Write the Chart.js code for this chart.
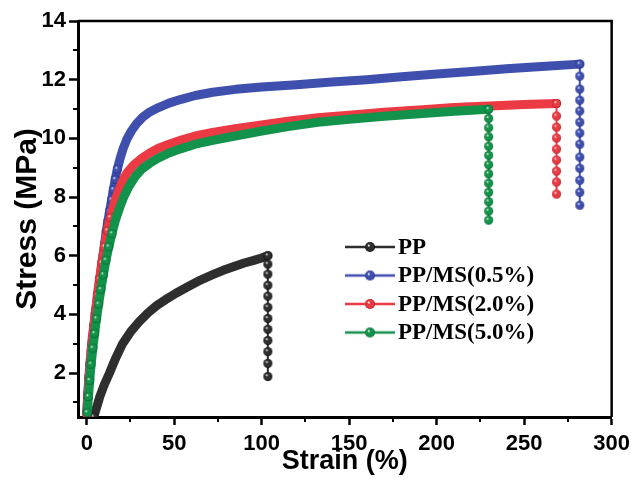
<!DOCTYPE html>
<html>
<head>
<meta charset="utf-8">
<script src="https://cdn.jsdelivr.net/npm/chart.js@4.4.1/dist/chart.umd.min.js"></script>
<style>
  html, body { margin: 0; padding: 0; background: #fff; }
  #wrap { width: 636px; height: 484px; position: relative; }
</style>
</head>
<body>
<div id="wrap"><canvas id="stressChart"></canvas></div>
<script>
// Tensile curves: strain (%) and stress (MPa), last points are the break drop
const seriesNames = ["PP", "PP/MS(0.5%)", "PP/MS(2.0%)", "PP/MS(5.0%)"];

const ppStrain = [4, 5.5, 7.5, 10, 13, 16.5, 20.5, 25, 30, 35, 40, 45, 51, 58, 65, 72, 78, 85, 90, 95, 100, 103.5,
  103.5, 103.5, 103.5, 103.5, 103.5, 103.5, 103.5, 103.5, 103.5, 103.5, 103.5];
const ppStress = [0.5, 0.8, 1.2, 1.6, 2.0, 2.5, 3.0, 3.4, 3.75, 4.05, 4.3, 4.5, 4.72, 4.95, 5.17, 5.35, 5.5, 5.65, 5.75, 5.83, 5.92, 6.0,
  5.71, 5.37, 4.99, 4.62, 4.24, 3.86, 3.49, 3.11, 2.73, 2.33, 1.88];

const ms05Strain = [0, 0.6, 1.2, 1.8, 2.5, 3.2, 4, 4.8, 5.7, 6.6, 7.5, 8.4, 9.3, 10.2, 11.1, 12, 13, 14.2, 15.2, 16.3, 17.5, 19, 20.8,
  23, 25.5, 28.5, 32, 36, 41, 47, 54, 62, 72, 85, 100, 120, 140, 160, 180, 200, 220, 240, 260, 281.8,
  281.8, 281.8, 281.8, 281.8, 281.8, 281.8, 281.8, 281.8, 281.8, 281.8, 281.8, 281.8];
const ms05Stress = [0.65, 1.3, 1.85, 2.3, 2.75, 3.2, 3.6, 4.0, 4.4, 4.8, 5.2, 5.6, 6.0, 6.4, 6.8, 7.15, 7.5, 7.9, 8.25, 8.6, 8.95, 9.3, 9.65,
  9.98, 10.25, 10.5, 10.72, 10.9, 11.05, 11.2, 11.33, 11.46, 11.57, 11.67, 11.75, 11.83, 11.92, 12.0, 12.1, 12.19, 12.28, 12.37, 12.45, 12.53,
  12.12, 11.68, 11.3, 10.93, 10.55, 10.18, 9.8, 9.36, 8.98, 8.57, 8.16, 7.72];

const ms20Strain = [0, 0.6, 1.3, 2.1, 3, 4, 5, 6.1, 7.3, 8.6, 10.1, 11.8, 13.5, 15.4, 17.5, 20, 23, 27, 31.5, 36, 41, 47, 54, 62,
  72, 84, 100, 115, 132, 150, 170, 190, 210, 230, 250, 268.5,
  268.5, 268.5, 268.5, 268.5, 268.5, 268.5, 268.5, 268.5];
const ms20Stress = [0.6, 1.2, 1.8, 2.4, 3.0, 3.55, 4.1, 4.65, 5.2, 5.75, 6.3, 6.85, 7.3, 7.72, 8.1, 8.48, 8.82, 9.1, 9.32, 9.5, 9.66, 9.8, 9.94, 10.08,
  10.2, 10.32, 10.46, 10.58, 10.7, 10.79, 10.89, 10.97, 11.05, 11.1, 11.15, 11.19,
  10.76, 10.38, 10.01, 9.63, 9.26, 8.88, 8.51, 8.1];

const ms50Strain = [0.3, 1, 1.7, 2.5, 3.5, 4.5, 5.6, 6.8, 8.1, 9.5, 11, 12.6, 14.4, 16.4, 18.6, 21, 24, 27.5, 31.5, 36, 41, 47, 54, 62,
  72, 84, 100, 115, 132, 150, 170, 190, 210, 229.7,
  229.7, 229.7, 229.7, 229.7, 229.7, 229.7, 229.7, 229.7, 229.7, 229.7, 229.7, 229.7];
const ms50Stress = [0.65, 1.2, 1.75, 2.3, 2.85, 3.35, 3.85, 4.35, 4.85, 5.35, 5.85, 6.3, 6.75, 7.2, 7.6, 7.98, 8.35, 8.68, 8.95, 9.15, 9.33, 9.5, 9.65, 9.8,
  9.93, 10.07, 10.25, 10.4, 10.55, 10.65, 10.75, 10.84, 10.92, 10.99,
  10.68, 10.36, 10.05, 9.73, 9.42, 9.1, 8.79, 8.47, 8.16, 7.84, 7.52, 7.21];

const xMinorTicks = [25, 75, 125, 175, 225, 275];
const yMinorTicks = [1, 3, 5, 7, 9, 11, 13];

// colours: body, dark rim
const bodyColors = ["#2e2e2e", "#3f4fae", "#ec3a44", "#12924a"];
const rimColors = ["#000000", "#1b2470", "#9c1018", "#055a28"];
const drawOrder = [3, 2, 1, 0];

function makeBall(body, rim, r) {
  const size = Math.ceil(r * 2) + 2;
  const c = document.createElement("canvas");
  c.width = c.height = size;
  const g = c.getContext("2d");
  const cx = size / 2, cy = size / 2;
  const grad = g.createRadialGradient(cx - r * 0.3, cy - r * 0.35, r * 0.05, cx, cy, r);
  grad.addColorStop(0, "#f4f4f4");
  grad.addColorStop(0.3, body);
  grad.addColorStop(0.8, body);
  grad.addColorStop(1, rim);
  g.fillStyle = grad;
  g.beginPath();
  g.arc(cx, cy, r, 0, Math.PI * 2);
  g.fill();
  return c;
}

function makeLegendMark(body, rim) {
  const c = document.createElement("canvas");
  c.width = 50;
  c.height = 12;
  const g = c.getContext("2d");
  g.strokeStyle = body;
  g.lineWidth = 2.5;
  g.beginPath();
  g.moveTo(0, 6);
  g.lineTo(50, 6);
  g.stroke();
  g.drawImage(makeBall(body, rim, 5), 25 - 6, 0);
  return c;
}

function toPoints(xs, ys) {
  return xs.map((x, i) => ({ x, y: ys[i] }));
}

// beads stay visible on steep stretches and on the break drop;
// on the flat plateau they merge into a solid band
function beadRadius(ctx) {
  const d = ctx.dataset.data;
  const i = ctx.dataIndex;
  const p = d[i];
  const q = d[i + 1] || d[i - 1];
  if (!p || !q) return 4.5;
  const dx = Math.abs(q.x - p.x);
  const dy = Math.abs(q.y - p.y);
  return dx === 0 || dy / dx > 0.2 ? 4.5 : 0;
}

const pointSets = [
  toPoints(ppStrain, ppStress),
  toPoints(ms05Strain, ms05Stress),
  toPoints(ms20Strain, ms20Stress),
  toPoints(ms50Strain, ms50Stress)
];

const datasets = seriesNames.map((name, i) => ({
  label: name,
  data: pointSets[i],
  order: drawOrder[i],
  borderColor: bodyColors[i],
  backgroundColor: bodyColors[i],
  pointStyle: makeBall(bodyColors[i], rimColors[i], 4.5),
  pointRadius: beadRadius,
  borderJoinStyle: "round",
  borderCapStyle: "round",
  segment: {
    // the break drop is drawn as a thin string of beads
    borderWidth: ctx => ctx.p0.parsed.x === ctx.p1.parsed.x ? 2 : 9
  },
  tension: 0
}));

const frameAndTicks = {
  id: "frameAndTicks",
  afterDraw(chart) {
    const { ctx, chartArea: a, scales: { x, y } } = chart;
    ctx.save();
    ctx.strokeStyle = "#000";
    ctx.lineWidth = 2.5;
    ctx.beginPath();
    ctx.moveTo(a.left, a.top);
    ctx.lineTo(a.right, a.top);
    ctx.lineTo(a.right, a.bottom);
    ctx.stroke();

    ctx.lineWidth = 2;
    ctx.beginPath();
    xMinorTicks.forEach(v => {
      const px = Math.round(x.getPixelForValue(v));
      ctx.moveTo(px, a.bottom);
      ctx.lineTo(px, a.bottom + 5);
    });
    yMinorTicks.forEach(v => {
      const py = Math.round(y.getPixelForValue(v));
      ctx.moveTo(a.left, py);
      ctx.lineTo(a.left - 5, py);
    });
    ctx.stroke();
    ctx.restore();
  }
};

const beadLegend = {
  id: "beadLegend",
  afterDraw(chart) {
    const { ctx } = chart;
    ctx.save();
    ctx.font = "bold 23px 'Liberation Serif', 'Times New Roman', serif";
    ctx.fillStyle = "#000";
    ctx.textBaseline = "middle";
    chart.data.datasets.forEach((ds, i) => {
      const rowY = 247 + i * 28.5;
      ctx.drawImage(makeLegendMark(bodyColors[i], rimColors[i]), 345, rowY - 6);
      ctx.fillText(ds.label, 398, rowY + 1);
    });
    ctx.restore();
  }
};

const axisFont = { family: "'Liberation Sans', Arial, sans-serif", weight: "bold", size: 22 };

new Chart(document.getElementById("stressChart"), {
  type: "line",
  data: { datasets },
  plugins: [frameAndTicks, beadLegend],
  options: {
    responsive: true,
    maintainAspectRatio: false,
    animation: false,
    layout: { padding: { top: 21, right: 20, left: 0, bottom: 0 } },
    plugins: {
      legend: { display: false },
      tooltip: { enabled: false }
    },
    scales: {
      x: {
        type: "linear",
        min: -5,
        max: 300,
        afterFit: scale => { scale.height = 67; },
        border: { display: true, color: "#000", width: 3 },
        grid: { drawOnChartArea: false, drawTicks: true, tickLength: 8, tickWidth: 2.5, tickColor: "#000" },
        ticks: { stepSize: 50, includeBounds: false, color: "#000", font: axisFont, padding: 6, maxRotation: 0 },
        title: {
          display: true,
          text: "Strain (%)",
          color: "#000",
          font: { family: "'Liberation Sans', Arial, sans-serif", weight: "bold", size: 27 },
          padding: { top: 0, bottom: 6 }
        }
      },
      y: {
        type: "linear",
        min: 0.5,
        max: 14,
        afterFit: scale => { scale.width = 78; },
        border: { display: true, color: "#000", width: 3 },
        grid: { drawOnChartArea: false, drawTicks: true, tickLength: 9, tickWidth: 2.5, tickColor: "#000" },
        ticks: { stepSize: 2, includeBounds: false, color: "#000", font: axisFont, padding: 3 },
        title: {
          display: true,
          text: "Stress (MPa)",
          color: "#000",
          font: { family: "'Liberation Sans', Arial, sans-serif", weight: "bold", size: 30 },
          padding: { top: 10, bottom: 0 }
        }
      }
    }
  }
});
</script>
</body>
</html>
